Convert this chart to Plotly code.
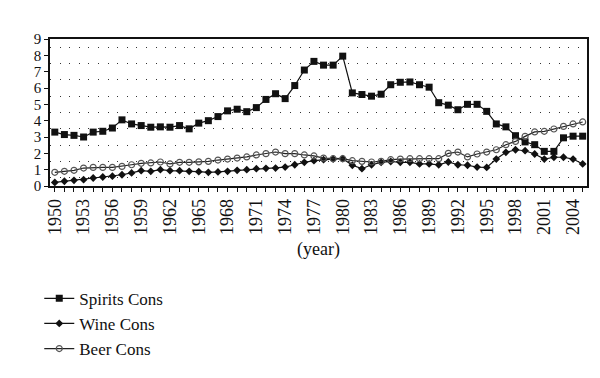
import plotly.graph_objects as go

years = list(range(1950, 2006))

spirits = [3.3, 3.15, 3.1, 3.0, 3.3, 3.35, 3.55, 4.05, 3.8, 3.7, 3.6, 3.62, 3.6, 3.7, 3.5, 3.85,
           4.0, 4.25, 4.6, 4.7, 4.55, 4.8, 5.3, 5.65, 5.35, 6.15, 7.1, 7.63, 7.4, 7.4, 7.95,
           5.7, 5.6, 5.5, 5.62, 6.2, 6.35, 6.37, 6.2, 6.05, 5.1, 4.95, 4.67, 5.0, 5.0, 4.57,
           3.8, 3.62, 3.08, 2.7, 2.53, 2.12, 2.12, 2.95, 3.05, 3.05]

wine = [0.22, 0.29, 0.35, 0.39, 0.49, 0.55, 0.6, 0.69, 0.8, 0.94, 0.9, 1.0, 0.94, 0.94, 0.9, 0.88,
        0.84, 0.86, 0.9, 0.96, 1.0, 1.06, 1.08, 1.1, 1.16, 1.3, 1.45, 1.55, 1.61, 1.65, 1.67,
        1.27, 1.06, 1.3, 1.45, 1.5, 1.45, 1.45, 1.35, 1.35, 1.3, 1.47, 1.3, 1.27, 1.16, 1.14,
        1.65, 2.06, 2.22, 2.16, 1.96, 1.65, 1.76, 1.76, 1.65, 1.35]

beer = [0.84, 0.9, 0.96, 1.1, 1.14, 1.14, 1.14, 1.2, 1.3, 1.39, 1.41, 1.47, 1.35, 1.45, 1.45, 1.48,
        1.51, 1.59, 1.65, 1.71, 1.78, 1.9, 1.98, 2.08, 1.98, 1.98, 1.9, 1.84, 1.71, 1.67, 1.67,
        1.55, 1.51, 1.47, 1.51, 1.61, 1.65, 1.67, 1.67, 1.67, 1.67, 2.0, 2.08, 1.78, 1.96, 2.08,
        2.22, 2.53, 2.73, 3.04, 3.31, 3.35, 3.49, 3.65, 3.8, 3.92]

series_names = ["Spirits Cons", "Wine Cons", "Beer Cons"]

FONT = "Liberation Serif"

fig = go.Figure()
fig.add_trace(go.Scatter(
    x=years, y=spirits, name=series_names[0], mode="lines+markers",
    line=dict(color="#111111", width=1.2),
    marker=dict(symbol="square", size=7, color="#111111"),
))
fig.add_trace(go.Scatter(
    x=years, y=wine, name=series_names[1], mode="lines+markers",
    line=dict(color="#111111", width=1.2),
    marker=dict(symbol="diamond", size=6, color="#111111"),
))
fig.add_trace(go.Scatter(
    x=years, y=beer, name=series_names[2], mode="lines+markers",
    line=dict(color="#222222", width=1.2),
    marker=dict(symbol="circle-open", size=6, color="#555555", line=dict(width=1.2)),
))

fig.update_layout(
    width=600, height=378,
    margin=dict(l=42, r=21, t=31, b=200),
    paper_bgcolor="white", plot_bgcolor="white",
    font=dict(family=FONT, size=18, color="#111111"),
    showlegend=True,
    legend=dict(
        x=-0.02, y=-0.645, xanchor="left", yanchor="top",
        font=dict(family=FONT, size=17, color="#111111"),
        tracegroupgap=0, itemwidth=30, bgcolor="rgba(0,0,0,0)",
    ),
    xaxis=dict(
        range=[1949.5, 2005.45],
        tickmode="linear", tick0=1950, dtick=3,
        tickangle=-90,
        ticks="outside", ticklen=4, tickcolor="#111111",
        minor=dict(dtick=1, tick0=1950, ticks="outside", ticklen=4, tickcolor="#111111", showgrid=False),
        showline=True, linecolor="#111111", linewidth=1.5, mirror=True,
        showgrid=False, zeroline=False,
        tickfont=dict(family=FONT, size=18),
        title=dict(text="(year)", font=dict(family=FONT, size=18), standoff=8),
    ),
    yaxis=dict(
        range=[0, 9], tickmode="linear", tick0=0, dtick=1,
        ticks="outside", ticklen=4, tickcolor="#111111",
        showline=True, linecolor="#111111", linewidth=1.5, mirror=True,
        showgrid=False, zeroline=False,
        minor=dict(dtick=0.5, showgrid=True, gridcolor="#333333", gridwidth=1, griddash="1px,8.6px"),
        tickfont=dict(family=FONT, size=15),
    ),
)

fig.write_html("out.html")
